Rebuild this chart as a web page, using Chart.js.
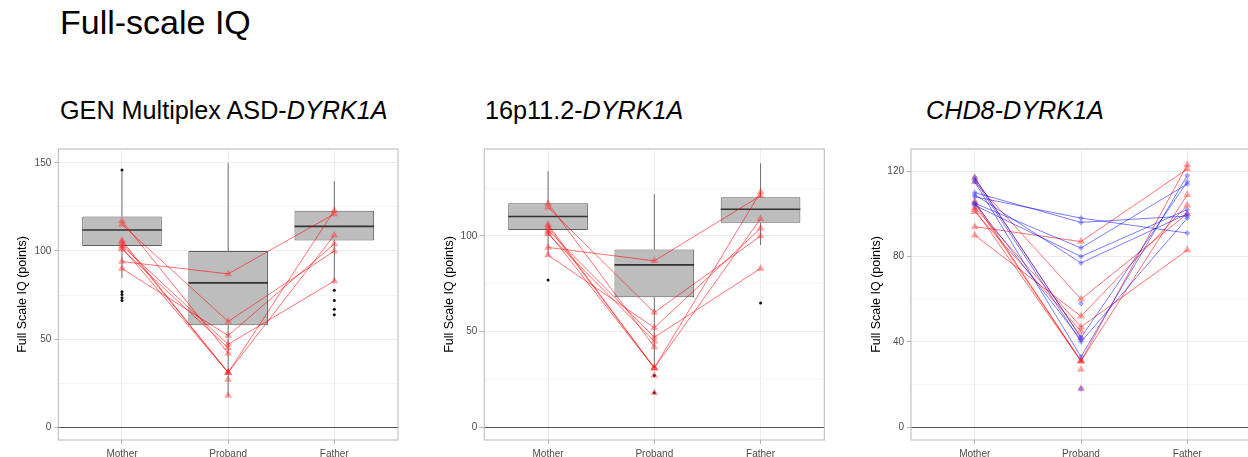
<!DOCTYPE html>
<html>
<head>
<meta charset="utf-8">
<script src="https://cdn.jsdelivr.net/npm/chart.js@4/dist/chart.umd.min.js"></script>
<style>
  body { margin: 0; width: 1248px; height: 457px; overflow: hidden; background: #fff; position: relative;
         font-family: "Liberation Sans", Arial, Helvetica, sans-serif; }
  .t { position: absolute; line-height: 1; white-space: nowrap; color: #000; }
  canvas { position: absolute; top: 140px; }
</style>
</head>
<body>
<div class="t" style="left:60px;top:5px;font-size:34px">Full-scale IQ</div>
<div class="t" style="left:60px;top:98px;font-size:25.2px">GEN Multiplex ASD-<i>DYRK1A</i></div>
<div class="t" style="left:485px;top:98px;font-size:25.2px">16p11.2-<i>DYRK1A</i></div>
<div class="t" style="left:926px;top:98px;font-size:25.2px"><i>CHD8-DYRK1A</i></div>

<canvas id="c1" width="410" height="317" style="left:0px"></canvas>
<canvas id="c2" width="410" height="317" style="left:420px"></canvas>
<canvas id="c3" width="420" height="317" style="left:840px"></canvas>

<script>
// categories
const members = ['Mother', 'Proband', 'Father'];

// DYRK1A families (one entry per family): mother / proband / father FSIQ
const dyrkMother  = [94, 115, 90, 103, 101, 117, 105, 102, 106, null, null];
const dyrkProband = [87, 60, 52, 47, 45, 42, 31, 31, 31, 27, 18];
const dyrkFather  = [121, 100, 104, 83, null, null, 123, 109, null, null, null];

// CHD8 families
const chd8Mother  = [108, 110, 105, 104, 109, 117, 115, 116, 105, null, null];
const chd8Proband = [98, 96, 84, 80, 77, 42, 33, 40, 41, 58, 18];
const chd8Father  = [91, 99, 114, 102, 100, 115, 118, 98, null, null, null];

// GEN multiplex ASD boxplot stats (Mother, Proband, Father)
const genWhiskerLow  = [84.7, 17.5, 82.8];
const genQ1          = [102.9, 57.9, 105.9];
const genMedian      = [111.9, 81.9, 114];
const genQ3          = [119.6, 100, 122.8];
const genWhiskerHigh = [145, 150, 139.7];
const genOutMother   = [146, 76.8, 75.3, 73.4, 71.9];
const genOutProband  = [];
const genOutFather   = [77.7, 71.9, 66.9, 63.8];

// 16p11.2 boxplot stats
const p16WhiskerLow  = [90, 31.3, 95.3];
const p16Q1          = [103.1, 68, 106.9];
const p16Median      = [110.2, 84.9, 114];
const p16Q3          = [117.1, 92.9, 120.2];
const p16WhiskerHigh = [133.9, 122, 138];
const p16OutMother   = [77];
const p16OutProband  = [27, 18];
const p16OutFather   = [64.9];

// y axis ticks
const genTicks = [0, 25, 50, 75, 100, 125, 150];
const genLabels = [0, 50, 100, 150];
const p16Ticks = [0, 25, 50, 75, 100, 125];
const p16Labels = [0, 50, 100];
const chd8Ticks = [0, 20, 40, 60, 80, 100, 120];
const chd8Labels = [0, 40, 80, 120];

Chart.defaults.font.family = '"Liberation Sans", Arial, Helvetica, sans-serif';
Chart.defaults.animation = false;

// median line drawn on top of each box
const medianPlugin = {
  id: 'median',
  afterDatasetDraw(chart, args) {
    const ds = chart.data.datasets[args.index];
    if (!ds.medians) return;
    const ctx = chart.ctx;
    const y = chart.scales.y;
    args.meta.data.forEach((bar, i) => {
      const py = y.getPixelForValue(ds.medians[i]);
      ctx.save();
      ctx.strokeStyle = '#333';
      ctx.lineWidth = 1.6;
      ctx.beginPath();
      ctx.moveTo(bar.x - bar.width / 2, py);
      ctx.lineTo(bar.x + bar.width / 2, py);
      ctx.stroke();
      ctx.restore();
    });
  }
};

// panel border like theme_light
const framePlugin = {
  id: 'frame',
  afterDraw(chart) {
    const a = chart.chartArea;
    const ctx = chart.ctx;
    ctx.save();
    ctx.strokeStyle = '#b8b8b8';
    ctx.lineWidth = 1;
    ctx.strokeRect(a.left, a.top, a.right - a.left, a.bottom - a.top);
    ctx.restore();
  }
};

function familyDatasets(mother, proband, father, color, fill, style, radius) {
  return mother.map((m, i) => ({
    data: [m, proband[i], father[i]].map((v, k) => ({ x: k + 1, y: v })),
    borderColor: color,
    borderWidth: 0.8,
    pointStyle: style,
    pointRadius: radius,
    pointBackgroundColor: fill,
    pointBorderWidth: 0,
    spanGaps: false,
    order: 1
  }));
}

function boxDatasets(lo, q1, med, q3, hi, outs) {
  const whisk = [];
  lo.forEach((v, i) => {
    whisk.push({ x: i + 1, y: v }, { x: i + 1, y: q1[i] }, { x: i + 1, y: null },
               { x: i + 1, y: q3[i] }, { x: i + 1, y: hi[i] }, { x: i + 1, y: null });
  });
  const outPts = [];
  outs.forEach((arr, i) => arr.forEach(v => outPts.push({ x: i + 1, y: v })));
  return [
    { data: whisk, borderColor: '#707070', borderWidth: 1, pointRadius: 0, spanGaps: false, order: 6 },
    { type: 'bar', data: q1.map((v, i) => ({ x: i + 1, y: [v, q3[i]] })), medians: med,
      backgroundColor: '#bdbdbd', borderColor: '#5e5e5e', borderWidth: 1, borderSkipped: false,
      barPercentage: 0.75, categoryPercentage: 1, grouped: false, order: 5 },
    { data: outPts, showLine: false, pointRadius: 1.5, pointBackgroundColor: '#111', pointBorderWidth: 0, order: 4 }
  ];
}

function makePanel(id, datasets, yMin, yMax, yTicks, yLabels, yWidth, titlePad, padRight) {
  return new Chart(document.getElementById(id), {
    type: 'line',
    data: { datasets },
    plugins: [medianPlugin, framePlugin],
    options: {
      responsive: false,
      devicePixelRatio: 1,
      events: [],
      layout: { padding: { left: 0, right: padRight, top: 6.7, bottom: 0 } },
      plugins: { legend: { display: false }, tooltip: { enabled: false } },
      scales: {
        x: {
          type: 'linear', min: 0.4, max: 3.6, offset: false,
          afterBuildTicks: a => { a.ticks = members.map((m, i) => ({ value: i + 1 })); },
          afterFit: a => { a.height = 17; },
          border: { display: false },
          grid: { offset: false, color: '#ececec', tickColor: '#b3b3b3', tickLength: 4 },
          ticks: { callback: v => members[v - 1], color: '#4d4d4d', font: { size: 10 },
                   padding: 4, autoSkip: false, maxRotation: 0 }
        },
        y: {
          type: 'linear', min: yMin, max: yMax,
          afterBuildTicks: a => { a.ticks = yTicks.map(v => ({ value: v })); },
          afterFit: a => { a.width = yWidth; },
          border: { display: false },
          grid: {
            color: c => c.tick.value === 0 ? '#555' : (yLabels.includes(c.tick.value) ? '#ebebeb' : '#f5f5f5'),
            tickColor: c => yLabels.includes(c.tick.value) ? '#b3b3b3' : 'rgba(0,0,0,0)',
            tickLength: 4
          },
          ticks: { callback: v => yLabels.includes(v) ? v : '', color: '#4d4d4d', font: { size: 10 }, padding: 3 },
          title: { display: true, text: 'Full Scale IQ (points)', color: '#000', font: { size: 12.5 },
                   padding: { top: titlePad, bottom: 0 } }
        }
      }
    }
  });
}

const red = 'rgba(255,0,0,0.7)';
const redFill = 'rgba(255,40,40,0.42)';
const blue = 'rgba(0,0,255,0.65)';
const blueFill = 'rgba(60,60,255,0.42)';

makePanel('c1',
  boxDatasets(genWhiskerLow, genQ1, genMedian, genQ3, genWhiskerHigh, [genOutMother, genOutProband, genOutFather])
    .concat(familyDatasets(dyrkMother, dyrkProband, dyrkFather, red, redFill, 'triangle', 4.5)),
  -7.3, 157.9, genTicks, genLabels, 58.3, 15.2, 12);

makePanel('c2',
  boxDatasets(p16WhiskerLow, p16Q1, p16Median, p16Q3, p16WhiskerHigh, [p16OutMother, p16OutProband, p16OutFather])
    .concat(familyDatasets(dyrkMother, dyrkProband, dyrkFather, red, redFill, 'triangle', 4.5)),
  -6.7, 145.5, p16Ticks, p16Labels, 64.3, 21.8, 5.7);

makePanel('c3',
  familyDatasets(chd8Mother, chd8Proband, chd8Father, blue, blueFill, 'rectRot', 3)
    .concat(familyDatasets(dyrkMother, dyrkProband, dyrkFather, red, redFill, 'triangle', 4.5)),
  -6, 130.4, chd8Ticks, chd8Labels, 71, 29.2, 9);
</script>
</body>
</html>
